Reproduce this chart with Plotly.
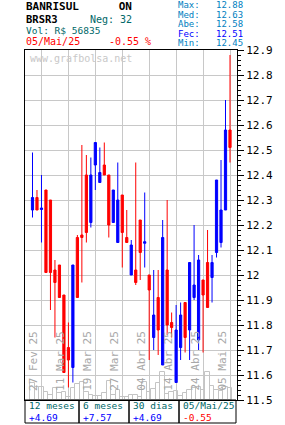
import plotly.graph_objects as go

# ---------------- data ----------------
dates = ["2025-02-25", "2025-02-26", "2025-02-27", "2025-02-28",
         "2025-03-05", "2025-03-06", "2025-03-07", "2025-03-10", "2025-03-11",
         "2025-03-12", "2025-03-13", "2025-03-14", "2025-03-17", "2025-03-18",
         "2025-03-19", "2025-03-20", "2025-03-21", "2025-03-24", "2025-03-25",
         "2025-03-26", "2025-03-27", "2025-03-28", "2025-03-31", "2025-04-01",
         "2025-04-02", "2025-04-03", "2025-04-04", "2025-04-07", "2025-04-08",
         "2025-04-09", "2025-04-10", "2025-04-11", "2025-04-14", "2025-04-15",
         "2025-04-16", "2025-04-17", "2025-04-22", "2025-04-23", "2025-04-24",
         "2025-04-25", "2025-04-28", "2025-04-29", "2025-04-30", "2025-05-02",
         "2025-05-05"]

opens = [12.26, 12.31, 12.262, 12.34, 12.30, 12.02, 12.04, 11.92, 11.71, 11.63,
         12.15, 12.16, 12.40, 12.21, 12.44, 12.37, 12.44, 12.40, 12.21, 12.13,
         12.32, 12.15, 12.00, 12.02, 12.22, 12.127, 12.00, 11.75, 11.91, 11.64,
         12.02, 11.81, 11.57, 11.71, 11.89, 11.78, 11.91, 11.74, 11.98, 12.05,
         11.99, 12.09, 12.13, 12.26, 12.58]
highs = [12.49, 12.34, 12.40, 12.34, 12.30, 12.06, 12.04, 11.92, 11.81, 12.04,
         12.16, 12.52, 12.48, 12.47, 12.53, 12.51, 12.53, 12.40, 12.34, 12.45,
         12.32, 12.26, 12.14, 12.45, 12.22, 12.33, 12.00, 12.02, 12.02, 12.22,
         12.30, 11.85, 11.88, 11.89, 11.89, 12.05, 12.20, 12.08, 11.98, 12.18,
         12.08, 12.38, 12.46, 12.70, 12.88]
lows = [12.23, 12.26, 12.13, 12.01, 11.86, 11.75, 11.91, 11.61, 11.55, 11.57,
        11.91, 11.97, 12.13, 12.19, 12.34, 12.37, 12.40, 12.15, 12.21, 12.13,
        12.03, 12.13, 12.00, 11.96, 11.98, 12.03, 11.66, 11.70, 11.68, 11.64,
        11.76, 11.75, 11.57, 11.66, 11.69, 11.66, 11.90, 11.70, 11.69, 11.87,
        11.89, 12.07, 12.11, 12.26, 12.45]
closes = [12.31, 12.26, 12.268, 12.01, 12.01, 11.97, 11.91, 11.61, 11.66, 12.04,
          11.91, 12.15, 12.17, 12.40, 12.53, 12.41, 12.40, 12.20, 12.34, 12.30,
          12.17, 12.13, 12.12, 11.97, 12.09, 12.133, 11.94, 11.84, 11.78, 12.15,
          11.80, 11.79, 11.78, 11.84, 11.75, 12.05, 11.96, 12.06, 11.92, 11.87,
          12.05, 12.38, 12.26, 12.58, 12.51]
volumes = [81100, 61700, 64600, 40300, 24300, 56800, 32500, 37400, 16000, 56800,
           76300, 86000, 40300, 24300, 19400, 20900, 32500, 92300, 24300, 48600,
           16000, 16000, 24300, 24300, 16000, 88900, 37400, 52000, 81100, 137500,
           27700, 40300, 43700, 19400, 32500, 48600, 56800, 61700, 48600, 137500,
           68000, 48600, 45200, 64600, 56835]

tick_dates = ["2025-02-27", "2025-03-11", "2025-03-19", "2025-03-27",
              "2025-04-04", "2025-04-14", "2025-04-24", "2025-05-05"]
tick_labels = ["27 Fev 25", "11 Mar 25", "19 Mar 25", "27 Mar 25",
               "04 Abr 25", "14 Abr 25", "24 Abr 25", "05 Mai 25"]

period_labels = ["12 meses", "6 meses", "30 dias", "05/Mai/25"]
period_values = ["+4.69", "+7.57", "+4.69", "-0.55"]

stats_labels = ["Max:", "Med:", "Abe:", "Fec:", "Min:"]
stats_values = ["12.88", "12.63", "12.58", "12.51", "12.45"]

# ---------------- geometry helpers ----------------
W, H = 285, 425
L, R, T, B = 25, 48, 50, 25
PW, PH = W - L - R, H - T - B


def px(x):
    return (x - L) / PW


def py(y):
    return (H - B - y) / PH


FONT = "DejaVu Sans Mono"
idx = list(range(len(dates)))
tick_idx = [dates.index(d) for d in tick_dates]

fig = go.Figure()

fig.add_trace(go.Bar(
    x=idx, y=volumes, yaxis="y2", width=1.0,
    marker=dict(color="rgba(255,255,255,0)", line=dict(color="#C4C4C4", width=1)),
    hoverinfo="skip", showlegend=False))

fig.add_trace(go.Candlestick(
    x=idx, open=opens, high=highs, low=lows, close=closes,
    increasing=dict(line=dict(color="#0000FF", width=1), fillcolor="#0000FF"),
    decreasing=dict(line=dict(color="#FF0000", width=1), fillcolor="#FF0000"),
    whiskerwidth=0, showlegend=False))

annotations = []


def txt(text, x, y, color, size, xanchor="left", xref="paper", angle=0,
        yanchor="middle", xshift=0, align="left"):
    annotations.append(dict(x=x, y=y, xref=xref, yref="paper", text=text,
                            xanchor=xanchor, yanchor=yanchor, textangle=angle,
                            xshift=xshift, showarrow=False, borderpad=0, align=align,
                            font=dict(family=FONT, size=size, color=color)))


# date labels
for i, lab in zip(tick_idx, tick_labels):
    txt(lab, i, py(392), "#A8A8A8", 11, xanchor="right", xref="x", angle=-90,
        yanchor="bottom", xshift=-1)

# watermark
txt("www.grafbolsa.net", px(29), py(58), "#C8C8C8", 10)

teal = "#006868"
lblue = "#0080C0"
txt("<b>BANRISUL      ON</b>", px(25), py(6.8), "black", 11)
txt("<b>BRSR3</b>", px(25), py(18.7), "black", 10.5)
txt("Neg: 32", px(89), py(19.2), teal, 10)
txt("Vol: R$ 56835", px(25), py(30.3), teal, 9.5)
txt("05/Mai/25", px(25), py(41.8), "#FF0000", 10)
txt("-0.55 %", px(108), py(41.8), "#FF0000", 10)

rows_y = [5, 14.5, 24, 33.5, 43]
for lab, val, y in zip(stats_labels, stats_values, rows_y):
    c = "#0000FF" if lab == "Fec:" else lblue
    txt(lab, px(177), py(y), c, 9)
    txt(val, px(244), py(y), c, 9, xanchor="right")

# bottom table
box_x = [25, 79, 129, 179, 236]
shapes = []
for k in range(4):
    shapes.append(dict(type="rect", xref="paper", yref="paper",
                       x0=px(box_x[k]), x1=px(box_x[k + 1]), y0=py(400), y1=py(423),
                       line=dict(color="black", width=1)))
    v = period_values[k]
    vc = "#FF0000" if v.startswith("-") else "#0000FF"
    cell = (f'<span style="color:{teal}">{period_labels[k]}</span><br>'
            f'<span style="color:{vc}">{v}</span>')
    txt(cell, px(box_x[k] + 3), py(411.8), teal, 9.5)

fig.update_layout(
    width=W, height=H, margin=dict(l=L, r=R, t=T, b=B, pad=0),
    paper_bgcolor="white", plot_bgcolor="white",
    showlegend=False, bargap=0,
    xaxis=dict(range=[-1.67, 45.56], tickvals=tick_idx, showticklabels=False,
               ticks="", showgrid=True, gridcolor="#C8C8C8", gridwidth=1,
               showline=True, mirror=True, linecolor="black", linewidth=1,
               zeroline=False, rangeslider=dict(visible=False), fixedrange=True),
    yaxis=dict(range=[11.5, 12.9], side="right", tick0=11.5, dtick=0.1,
               ticks="outside", ticklen=6, tickcolor="black",
               showgrid=True, gridcolor="#C8C8C8", gridwidth=1,
               showline=True, mirror=True, linecolor="black", linewidth=1,
               zeroline=False,
               minor=dict(dtick=0.02, ticks="outside", ticklen=3, tickcolor="black",
                          showgrid=False),
               tickfont=dict(family=FONT, size=11, color="black")),
    yaxis2=dict(overlaying="y", range=[0, 1700000], visible=False, showgrid=False),
    annotations=annotations, shapes=shapes,
)

fig.write_html("out.html")
